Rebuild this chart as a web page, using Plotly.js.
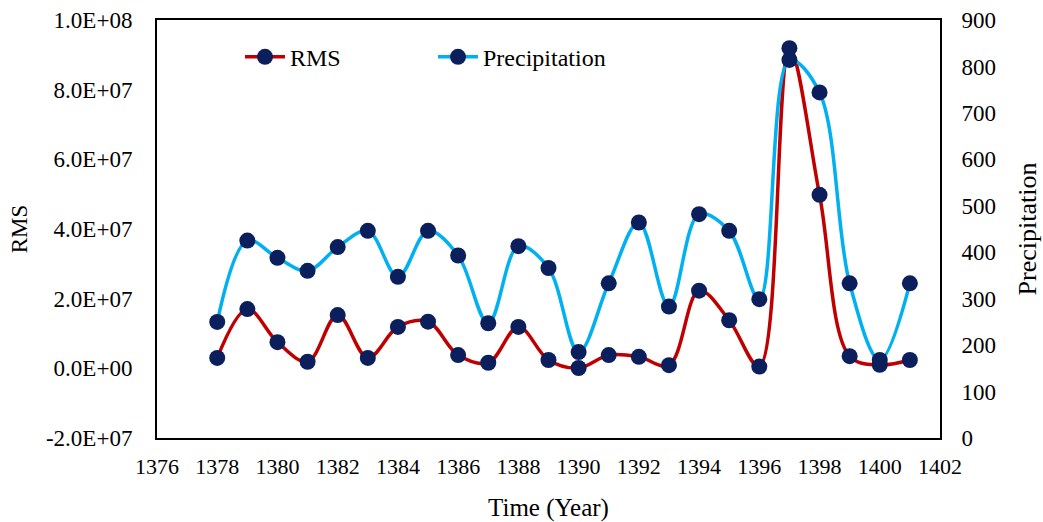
<!DOCTYPE html>
<html>
<head>
<meta charset="utf-8">
<script src="https://cdn.plot.ly/plotly-3.0.1.min.js"></script>
<style>html,body{margin:0;padding:0;background:#fff;}</style>
</head>
<body>
<div id="chart" style="width:1043px;height:522px;"></div>
<script>
const years = [1378,1379,1380,1381,1382,1383,1384,1385,1386,1387,1388,1389,1390,1391,1392,1393,1394,1395,1396,1397,1398,1399,1400,1401];
const rms = [3.0e6,1.70e7,7.5e6,1.9e6,1.53e7,3.0e6,1.19e7,1.34e7,3.8e6,1.6e6,1.19e7,2.4e6,1.0e5,3.8e6,3.3e6,9.0e5,2.23e7,1.38e7,5.0e5,9.19e7,4.98e7,3.5e6,1.0e6,2.4e6];
const precipitation = [250,425,388,360,411,446,347,446,393,247,413,366,185,333,464,283,482,446,299,814,744,333,168,333];
const rmsTicks = [-2e7,0,2e7,4e7,6e7,8e7,1e8];
const precipTicks = [0,100,200,300,400,500,600,700,800,900];
const xTicks = [1376,1378,1380,1382,1384,1386,1388,1390,1392,1394,1396,1398,1400,1402];

(function(){
function sci(v){
  if (v === 0) return '0.0E+00';
  const e = Math.floor(Math.log10(Math.abs(v)) + 1e-9);
  const m = v / Math.pow(10, e);
  return m.toFixed(1) + 'E' + (e >= 0 ? '+' : '-') + String(Math.abs(e)).padStart(2,'0');
}

const FF = 'Liberation Serif';
const dot = {color:'#0A1F5C', size:16};

const data = [
  {x: years, y: rms, name:'RMS', type:'scatter', mode:'lines+markers',
   line:{color:'#C00000', width:3.5, shape:'spline', smoothing:1}, marker: dot, yaxis:'y'},
  {x: years, y: precipitation, name:'Precipitation', type:'scatter', mode:'lines+markers',
   line:{color:'#00B0F0', width:3.5, shape:'spline', smoothing:1}, marker: dot, yaxis:'y2'}
];

const lay = {
  width:1043, height:522,
  margin:{l:157, r:103, t:20, b:84},
  paper_bgcolor:'#fff', plot_bgcolor:'#fff',
  font:{family:FF, color:'#000', size:22},
  showlegend:true,
  legend:{orientation:'h', x:0.106, y:0.911, xanchor:'left', yanchor:'middle',
          font:{family:FF, size:24, color:'#000'}, bgcolor:'rgba(0,0,0,0)', itemwidth:40,
          entrywidth:138, entrywidthmode:'pixels', tracegroupgap:0},
  xaxis:{range:[1376,1402], tickvals:xTicks, ticktext:xTicks.map(String),
         showline:true, linecolor:'#000', linewidth:2, mirror:true,
         showgrid:false, zeroline:false, ticks:'outside', ticklen:8, tickcolor:'rgba(0,0,0,0)',
         tickfont:{family:FF, size:22, color:'#000'},
         title:{text:'Time (Year)', font:{family:FF, size:25, color:'#000'}, standoff:20}},
  yaxis:{range:[-2e7,1e8], tickvals:rmsTicks, ticktext:rmsTicks.map(sci),
         showline:true, linecolor:'#000', linewidth:2, mirror:true,
         showgrid:false, zeroline:false, ticks:'outside', ticklen:18, tickcolor:'rgba(0,0,0,0)',
         tickfont:{family:FF, size:23, color:'#000'},
         title:{text:'RMS', font:{family:FF, size:23, color:'#000'}, standoff:12}},
  yaxis2:{range:[0,900], tickvals:precipTicks, ticktext:precipTicks.map(String),
          overlaying:'y', side:'right', showline:false,
          showgrid:false, zeroline:false, ticks:'outside', ticklen:16, tickcolor:'rgba(0,0,0,0)',
          tickfont:{family:FF, size:23, color:'#000'},
          title:{text:'Precipitation', font:{family:FF, size:26, color:'#000'}, standoff:22}}
};

Plotly.newPlot('chart', data, lay, {displayModeBar:false});
})();
</script>
</body>
</html>
